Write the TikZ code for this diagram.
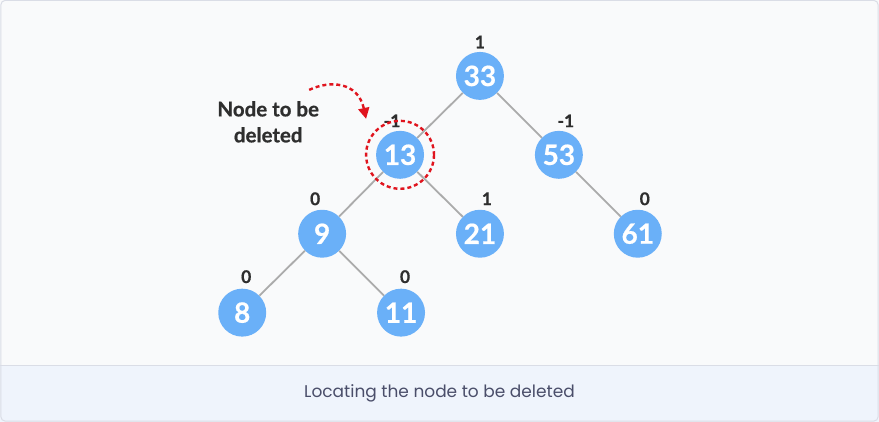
\documentclass[tikz,border=0pt]{standalone}
\usepackage{fontspec}
\setmainfont{Lato}
\newfontfamily\heavyfont{Lato}[BoldFeatures={FakeBold=0.6}]
\newfontfamily\capfont{Poppins}
\usepackage{tikz}
\usetikzlibrary{arrows.meta}
\definecolor{nodeblue}{HTML}{6AB0F8}
\definecolor{edgegray}{HTML}{ABABAB}
\definecolor{bgpage}{HTML}{F9FAFB}
\definecolor{bgcap}{HTML}{EFF4FC}
\definecolor{framegray}{HTML}{DADDE6}
\definecolor{textdark}{HTML}{2E2E2E}
\definecolor{captext}{HTML}{4A4E6A}
\definecolor{markred}{HTML}{E0141E}
\tikzstyle{avl node}=[circle,fill=nodeblue,minimum size=48pt,inner sep=0pt,
                      text=white,font=\heavyfont\fontsize{28}{28}\selectfont\bfseries]
\tikzstyle{avl edge}=[draw=edgegray,line width=1.8pt]
\tikzstyle{balance}=[text=textdark,font=\heavyfont\fontsize{17.5}{17.5}\selectfont\bfseries]
\tikzstyle{mark line}=[draw=markred,line width=2.4pt,dash pattern=on 4pt off 3pt]

\begin{document}
\begin{tikzpicture}[x=1pt,y=-1pt]

        % BACKGROUND
        \fill[bgpage] (0,0) rectangle (879,422);
        \fill[bgcap] (0,366) rectangle (879,422);
        \draw[framegray,line width=1pt] (0,366) -- (879,366);
        \draw[framegray,line width=1pt,rounded corners=4pt] (0.5,0.5) rectangle (878.5,421.5);
        \useasboundingbox (0,0) rectangle (879,422);

        % TREE NODES
        \node[avl node] (n33) at (480,76)  {33};
        \node[avl node] (n13) at (400,155) {13};
        \node[avl node] (n53) at (559,155) {53};
        \node[avl node] (n9)  at (322,234) {9};
        \node[avl node] (n21) at (480,234) {21};
        \node[avl node] (n61) at (638,234) {61};
        \node[avl node] (n8)  at (242,313) {8};
        \node[avl node] (n11) at (401,313) {11};

        % EDGES
        \draw[avl edge] (n33) -- (n13);
        \draw[avl edge] (n33) -- (n53);
        \draw[avl edge] (n13) -- (n9);
        \draw[avl edge] (n13) -- (n21);
        \draw[avl edge] (n53) -- (n61);
        \draw[avl edge] (n9) -- (n8);
        \draw[avl edge] (n9) -- (n11);

        % BALANCE FACTORS
        \node[balance] (b33) at (480,42)  {1};
        \node[balance] (b13) at (392,121) {-1};
        \node[balance] (b53) at (566,121) {-1};
        \node[balance] (b9)  at (315,199) {0};
        \node[balance] (b21) at (487,199) {1};
        \node[balance] (b61) at (645,199) {0};
        \node[balance] (b8)  at (246,277) {0};
        \node[balance] (b11) at (405,277) {0};

        % MARKER
        \draw[mark line] (n13.center) circle (34);
        \node[text=textdark,align=center,font=\heavyfont\fontsize{20.5}{26}\selectfont\bfseries]
             (lbl) at (268,122) {Node to be\\deleted};
        \coordinate (arrS) at (309,90);
        \coordinate (arrE) at (366,119);
        \draw[mark line,-{Triangle[length=11pt,width=11pt]}]
             (arrS) .. controls (330,80) and (358,82) .. (arrE);

        % CAPTION
        \node[text=captext,font=\capfont\fontsize{17}{17}\selectfont] (cap) at (439.5,394)
             {Locating the node to be deleted};

\end{tikzpicture}
\end{document}
